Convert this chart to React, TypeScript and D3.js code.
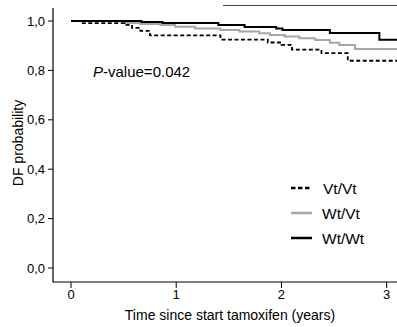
import React from "react";
import * as d3 from "d3";

const xTicks = [0, 1, 2, 3];
const yTicks = [0, 0.2, 0.4, 0.6, 0.8, 1.0];
const yTickLabels = ["0,0", "0,2", "0,4", "0,6", "0,8", "1,0"];

const endTime = 3.1;

const vtvtTimes = [0, 0.11, 0.51, 0.58, 0.66, 0.75, 1.42, 1.87, 2.0, 2.1, 2.38, 2.63];
const vtvtSurv = [1.0, 0.991, 0.984, 0.972, 0.96, 0.942, 0.925, 0.913, 0.903, 0.884, 0.87, 0.839];

const wtvtTimes = [0, 0.51, 0.66, 0.85, 0.99, 1.18, 1.42, 1.6, 1.79, 1.89, 2.03, 2.17, 2.32, 2.46, 2.55, 2.7];
const wtvtSurv = [1.0, 0.992, 0.988, 0.984, 0.977, 0.97, 0.964, 0.957, 0.95, 0.943, 0.937, 0.93, 0.923, 0.912, 0.903, 0.887];

const wtwtTimes = [0, 0.67, 0.87, 1.4, 1.65, 1.95, 2.01, 2.46, 2.93];
const wtwtSurv = [1.0, 0.996, 0.992, 0.984, 0.976, 0.97, 0.964, 0.951, 0.924];

const seriesNames = ["Vt/Vt", "Wt/Vt", "Wt/Wt"];

export default function App() {
  const x = d3.scaleLinear().domain([0, 3]).range([71, 386.7]);
  const y = d3.scaleLinear().domain([0, 1]).range([268, 21]);
  const line = d3
    .line<[number, number]>()
    .x((d) => x(d[0]))
    .y((d) => y(d[1]))
    .curve(d3.curveStepAfter);

  const mk = (t: number[], s: number[]) => {
    const pts: [number, number][] = t.map((v, i) => [v, s[i]]);
    pts.push([endTime, s[s.length - 1]]);
    return line(pts) || "";
  };

  const series = [
    { name: seriesNames[0], d: mk(vtvtTimes, vtvtSurv), stroke: "#000", dash: "4,2.5", w: 1.8 },
    { name: seriesNames[1], d: mk(wtvtTimes, wtvtSurv), stroke: "#a6a6a6", dash: undefined, w: 2 },
    { name: seriesNames[2], d: mk(wtwtTimes, wtwtSurv), stroke: "#000", dash: undefined, w: 2 },
  ];
  const drawOrder = [1, 0, 2];
  const font = "Arial, 'Liberation Sans', sans-serif";

  return (
    <svg
      width={397}
      height={327}
      style={{ position: "absolute", left: 0, top: 0, background: "#fff" }}
      fontFamily={font}
    >
      <rect x={0} y={0} width={397} height={327} fill="#fff" />
      {/* frame fragment at top */}
      <line x1={223} x2={397} y1={5.5} y2={5.5} stroke="#444" strokeWidth={1} />
      {/* axes */}
      <line x1={53} x2={53} y1={8} y2={282.5} stroke="#000" strokeWidth={1.2} />
      <line x1={53} x2={397} y1={282} y2={282} stroke="#000" strokeWidth={1.2} />
      {yTicks.map((v, i) => (
        <g key={"y" + i}>
          <line x1={48} x2={53} y1={y(v)} y2={y(v)} stroke="#000" strokeWidth={1} />
          <text x={45} y={y(v) + 4.5} fontSize={13} textAnchor="end" fill="#000">
            {yTickLabels[i]}
          </text>
        </g>
      ))}
      {xTicks.map((v, i) => (
        <g key={"x" + i}>
          <line x1={x(v)} x2={x(v)} y1={282} y2={288} stroke="#000" strokeWidth={1} />
          <text x={x(v)} y={299} fontSize={13} textAnchor="middle" fill="#000">
            {String(v)}
          </text>
        </g>
      ))}
      <text x={230} y={320} fontSize={14} textAnchor="middle" fill="#000">
        Time since start tamoxifen (years)
      </text>
      <text
        transform={`translate(23,${143}) rotate(-90)`}
        fontSize={14}
        textAnchor="middle"
        fill="#000"
      >
        DF probability
      </text>
      {/* curves */}
      {drawOrder.map((i) => (
        <path
          key={"s" + i}
          d={series[i].d}
          fill="none"
          stroke={series[i].stroke}
          strokeWidth={series[i].w}
          strokeDasharray={series[i].dash}
        />
      ))}
      <text x={93} y={77} fontSize={15} fill="#000">
        <tspan fontStyle="italic">P</tspan>-value=0.042
      </text>
      {/* legend */}
      {series.map((s, i) => {
        const cy = 188 + i * 25;
        return (
          <g key={"l" + i}>
            <line
              x1={291}
              x2={312}
              y1={cy}
              y2={cy}
              stroke={s.stroke}
              strokeWidth={i === 1 ? 2.5 : 2.5}
              strokeDasharray={i === 0 ? "4.5,2.5" : undefined}
            />
            <text x={i === 0 ? 323 : 322} y={cy + 5.5} fontSize={15.5} fill="#000">
              {s.name}
            </text>
          </g>
        );
      })}
    </svg>
  );
}
